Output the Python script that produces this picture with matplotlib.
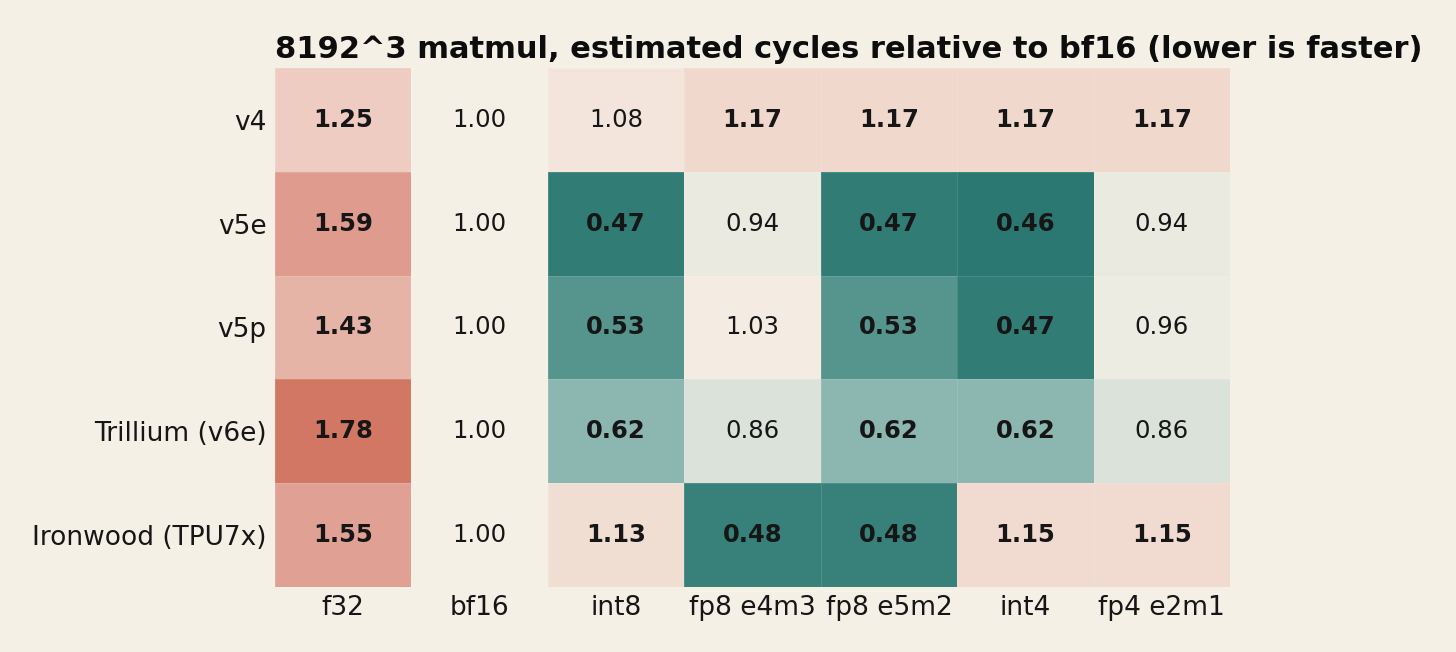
import matplotlib.pyplot as plt
import numpy as np
from matplotlib.colors import LinearSegmentedColormap, TwoSlopeNorm

# Daten
chips = ['v4', 'v5e', 'v5p', 'Trillium (v6e)', 'Ironwood (TPU7x)']
dtypes = ['f32', 'bf16', 'int8', 'fp8 e4m3', 'fp8 e5m2', 'int4', 'fp4 e2m1']

v4 = [1.25, 1.00, 1.08, 1.17, 1.17, 1.17, 1.17]
v5e = [1.59, 1.00, 0.47, 0.94, 0.47, 0.46, 0.94]
v5p = [1.43, 1.00, 0.53, 1.03, 0.53, 0.47, 0.96]
v6e = [1.78, 1.00, 0.62, 0.86, 0.62, 0.62, 0.86]
tpu7x = [1.55, 1.00, 1.13, 0.48, 0.48, 1.15, 1.15]

# fett gedruckte Zellen
bold_v4 = [1, 0, 0, 1, 1, 1, 1]
bold_v5e = [1, 0, 1, 0, 1, 1, 0]
bold_v5p = [1, 0, 1, 0, 1, 1, 0]
bold_v6e = [1, 0, 1, 0, 1, 1, 0]
bold_tpu7x = [1, 0, 1, 1, 1, 1, 1]

Z = np.array([v4, v5e, v5p, v6e, tpu7x])
B = np.array([bold_v4, bold_v5e, bold_v5p, bold_v6e, bold_tpu7x])

bg = '#f5f0e6'
ink = '#161616'

# Farbskala: teal -> Hintergrund -> rot
cmap = LinearSegmentedColormap.from_list('tealred', [
    (0.0, '#24736c'),
    (0.027, '#3a837c'),
    (0.073, '#57968e'),
    (0.155, '#8db7b1'),
    (0.373, '#dbe2da'),
    (0.5, bg),
    (0.656, '#eecdc2'),
    (0.869, '#df9b8f'),
    (1.0, '#d0735f'),
])
norm = TwoSlopeNorm(vmin=0.45, vcenter=1.0, vmax=1.8)

fig = plt.figure(figsize=(14.56, 6.52), dpi=100, facecolor=bg)
ax = fig.add_axes([0.1889, 0.0997, 0.6559, 0.796])
ax.set_facecolor(bg)

ax.pcolormesh(Z, cmap=cmap, norm=norm, edgecolors=(1, 1, 1, 0.12), linewidth=0.5)
ax.set_xlim(0, len(dtypes))
ax.set_ylim(len(chips), 0)

for i in range(len(chips)):
    for j in range(len(dtypes)):
        ax.text(j + 0.5, i + 0.5, f'{Z[i, j]:.2f}', ha='center', va='center',
                fontsize=17.5, color=ink,
                fontweight='bold' if B[i, j] else 'normal')

ax.set_xticks(np.arange(len(dtypes)) + 0.5)
ax.set_xticklabels(dtypes, fontsize=19, color=ink)
ax.set_yticks(np.arange(len(chips)) + 0.5)
ax.set_yticklabels(chips, fontsize=19, color=ink)
ax.tick_params(length=0, pad=6)
for s in ax.spines.values():
    s.set_visible(False)

ax.set_title('8192^3 matmul, estimated cycles relative to bf16 (lower is faster)',
             loc='left', fontsize=22, fontweight='bold', color='#0d0d0d', pad=7)

fig.savefig('out.png', facecolor=bg)
